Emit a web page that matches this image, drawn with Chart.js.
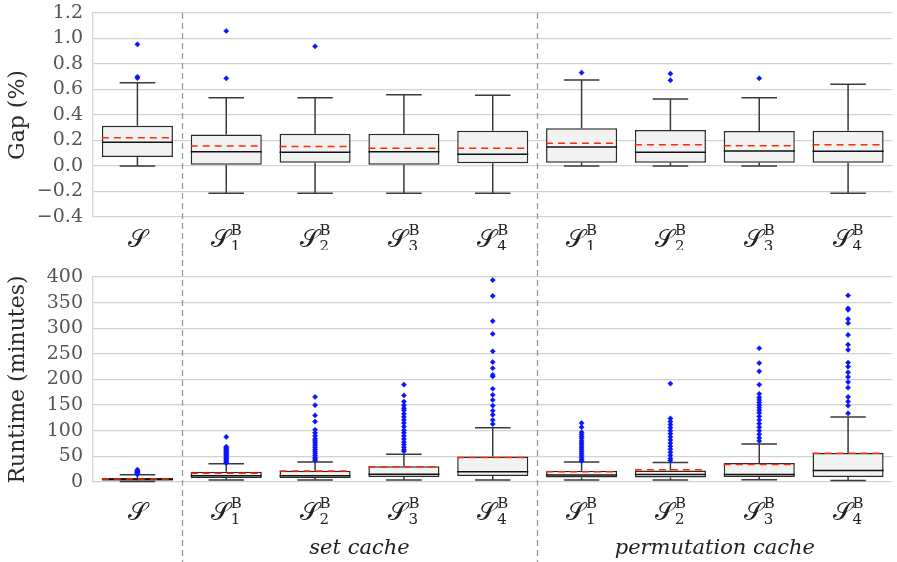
<!DOCTYPE html>
<html>
<head>
<meta charset="utf-8">
<script src="https://cdn.jsdelivr.net/npm/chart.js@4/dist/chart.umd.min.js"></script>
<style>
  body { margin: 0; background: #fff; }
  #wrap { position: relative; width: 897px; height: 562px; overflow: hidden; }
  canvas { position: absolute; left: 0; }
  #gapChart { top: 0; }
  #runChart { top: 250px; }
</style>
</head>
<body>
<div id="wrap">
  <canvas id="gapChart" width="897" height="250"></canvas>
  <canvas id="runChart" width="897" height="312"></canvas>
</div>
<script>
// ----------------------------------------------------
// DATA
// ----------------------------------------------------
const categories = ['S', 'set1', 'set2', 'set3', 'set4', 'perm1', 'perm2', 'perm3', 'perm4'];
const subscripts = ['', '1', '2', '3', '4', '1', '2', '3', '4'];
const groupNames = ['set cache', 'permutation cache'];

// Gap (%)
const gapLow    = [0.000, -0.214, -0.214, -0.214, -0.214, 0.000, 0.000, 0.000, -0.214];
const gapQ1     = [0.071, 0.010, 0.026, 0.010, 0.021, 0.026, 0.026, 0.026, 0.026];
const gapMedian = [0.186, 0.112, 0.107, 0.112, 0.092, 0.149, 0.107, 0.118, 0.115];
const gapMean   = [0.222, 0.157, 0.152, 0.139, 0.139, 0.178, 0.167, 0.159, 0.167];
const gapQ3     = [0.316, 0.248, 0.253, 0.253, 0.277, 0.296, 0.282, 0.275, 0.277];
const gapHigh   = [0.653, 0.536, 0.536, 0.559, 0.554, 0.675, 0.525, 0.536, 0.641];
const gapOutliers = [
  [0.954, 0.700, 0.690],
  [1.059, 0.688],
  [0.939],
  [],
  [],
  [0.732],
  [0.724, 0.672],
  [0.688],
  []
];

// Runtime (minutes)
const runLow    = [1, 4, 4, 3.7, 3.7, 3.7, 3.7, 4.3, 3];
const runQ1     = [3, 7.6, 8, 10, 11.5, 8.8, 8.8, 9.6, 9.6];
const runMedian = [5, 12, 12, 15, 20, 13.5, 14.6, 14.6, 22.5];
const runMean   = [6, 17, 21.5, 30, 48, 20, 24, 34, 56];
const runQ3     = [8, 20, 22, 30.5, 50, 22, 22.5, 37, 56.5];
const runHigh   = [14, 35.5, 39, 54, 106, 39, 38, 74, 127];
const runOutliers = [
  [15, 16, 17, 18, 19, 20, 21, 22, 24],
  [37, 39, 41, 43, 45, 47, 49, 51, 53, 55, 57, 59, 61, 63, 65, 67, 69, 88],
  [42, 45, 48, 52, 56, 60, 64, 68, 72, 76, 80, 84, 90, 96, 102, 118, 130, 150, 166],
  [60, 63, 68, 73, 78, 84, 90, 96, 101, 108, 115, 121, 127, 133, 140, 144, 150, 157, 169, 190],
  [113, 121, 131, 139, 149, 160, 170, 182, 206, 209, 222, 234, 255, 289, 314, 363, 394],
  [41, 44, 48, 52, 56, 60, 64, 68, 72, 76, 80, 85, 89, 93, 97, 107, 115],
  [42, 46, 52, 58, 64, 70, 76, 82, 88, 94, 100, 106, 112, 118, 124, 192],
  [80, 86, 93, 100, 107, 114, 121, 128, 135, 140, 145, 150, 155, 160, 165, 172, 190, 216, 232, 261],
  [134, 149, 157, 166, 184, 195, 205, 214, 225, 233, 258, 268, 287, 310, 318, 336, 339, 364]
];

const gapTicks = { min: -0.4, max: 1.2, step: 0.2 };
const runTicks = { min: 0, max: 400, step: 50 };

// ----------------------------------------------------
// STYLE
// ----------------------------------------------------
const SERIF = "'DejaVu Serif', serif";
const GRID = '#d2d2d2';

// box-plot extras (whiskers, caps, median, mean) drawn off the chart's scales
const boxPlugin = {
  id: 'boxExtras',
  beforeDatasetsDraw(chart) {
    const s = chart.$stats;
    if (!s) return;
    const x = chart.scales.x, y = chart.scales.y;
    const step = x.getPixelForValue(1) - x.getPixelForValue(0);
    const cap = step * 0.2;
    const ctx = chart.ctx;
    ctx.save();
    ctx.strokeStyle = '#3a3a3a';
    ctx.lineWidth = 1.5;
    s.low.forEach((lo, i) => {
      const cx = x.getPixelForValue(i);
      ctx.beginPath();
      ctx.moveTo(cx, y.getPixelForValue(s.q3[i])); ctx.lineTo(cx, y.getPixelForValue(s.high[i]));
      ctx.moveTo(cx, y.getPixelForValue(s.q1[i])); ctx.lineTo(cx, y.getPixelForValue(lo));
      ctx.moveTo(cx - cap, y.getPixelForValue(s.high[i])); ctx.lineTo(cx + cap, y.getPixelForValue(s.high[i]));
      ctx.moveTo(cx - cap, y.getPixelForValue(lo)); ctx.lineTo(cx + cap, y.getPixelForValue(lo));
      ctx.stroke();
    });
    ctx.restore();
  },
  afterDatasetsDraw(chart) {
    const s = chart.$stats;
    if (!s) return;
    const x = chart.scales.x, y = chart.scales.y;
    const half = (x.getPixelForValue(1) - x.getPixelForValue(0)) * 0.4;
    const ctx = chart.ctx;
    ctx.save();
    s.median.forEach((m, i) => {
      const cx = x.getPixelForValue(i);
      ctx.strokeStyle = '#111';
      ctx.lineWidth = 1.5;
      ctx.setLineDash([]);
      ctx.beginPath();
      ctx.moveTo(cx - half, y.getPixelForValue(m)); ctx.lineTo(cx + half, y.getPixelForValue(m));
      ctx.stroke();
      ctx.strokeStyle = '#ff2a00';
      ctx.setLineDash([7, 5]);
      ctx.beginPath();
      ctx.moveTo(cx - half, y.getPixelForValue(s.mean[i])); ctx.lineTo(cx + half, y.getPixelForValue(s.mean[i]));
      ctx.stroke();
    });
    ctx.restore();
  },
  afterDraw(chart) {
    const opt = chart.$labels;
    if (!opt) return;
    const x = chart.scales.x;
    const ctx = chart.ctx;
    ctx.save();
    // group separators
    ctx.strokeStyle = '#9a9a9a';
    ctx.lineWidth = 1.3;
    ctx.setLineDash([6, 4]);
    [0.5, 4.5].forEach(v => {
      const px = Math.round(x.getPixelForValue(v)) + 0.5;
      ctx.beginPath();
      ctx.moveTo(px, opt.sepTop === 'area' ? chart.chartArea.top : 0);
      ctx.lineTo(px, chart.height);
      ctx.stroke();
    });
    ctx.setLineDash([]);
    // category labels
    ctx.fillStyle = '#222';
    ctx.textBaseline = 'alphabetic';
    categories.forEach((c, i) => {
      const cx = x.getPixelForValue(i);
      ctx.font = '25px ' + SERIF;
      const sw = ctx.measureText('𝒮').width;
      if (!subscripts[i]) {
        ctx.textAlign = 'center';
        ctx.fillText('𝒮', cx, opt.base);
        return;
      }
      ctx.font = '15px ' + SERIF;
      const bw = ctx.measureText('B').width;
      const x0 = cx - (sw + bw + 1) / 2;
      ctx.textAlign = 'left';
      ctx.font = '25px ' + SERIF;
      ctx.fillText('𝒮', x0, opt.base);
      ctx.font = '15px ' + SERIF;
      ctx.fillText('B', x0 + sw + 1, opt.base - 12);
      ctx.fillText(subscripts[i], x0 + sw + 1, opt.base + 4);
    });
    // group names
    if (opt.groups) {
      ctx.font = 'italic 21px ' + SERIF;
      ctx.textAlign = 'center';
      ctx.fillText(groupNames[0], (x.getPixelForValue(1) + x.getPixelForValue(4)) / 2, opt.groups);
      ctx.fillText(groupNames[1], (x.getPixelForValue(5) + x.getPixelForValue(8)) / 2, opt.groups);
    }
    ctx.restore();
  }
};

function makeBoxChart(canvasId, stats, ticks, title, fmt, padTop, axisHeight, labelOpts) {
  const outliers = [];
  stats.out.forEach((list, i) => list.forEach(v => outliers.push({ x: categories[i], y: v })));

  const chart = new Chart(document.getElementById(canvasId), {
    type: 'bar',
    data: {
      labels: categories,
      datasets: [
        {
          type: 'line',
          data: outliers,
          showLine: false,
          pointStyle: 'rectRot',
          pointRadius: 2.6,
          pointBackgroundColor: '#0a14ff',
          pointBorderColor: '#0a14ff',
          pointBorderWidth: 0.5,
          order: 0
        },
        {
          data: stats.q1.map((q, i) => [q, stats.q3[i]]),
          backgroundColor: '#f2f2f2',
          borderColor: '#2a2a2a',
          borderWidth: 1.5,
          borderSkipped: false,
          barPercentage: 0.8,
          categoryPercentage: 1.0,
          order: 1
        }
      ]
    },
    options: {
      responsive: false,
      animation: false,
      devicePixelRatio: 1,
      layout: { padding: { top: padTop, left: 0, right: 0, bottom: 0 } },
      plugins: { legend: { display: false }, tooltip: { enabled: false } },
      scales: {
        x: {
          type: 'category',
          offset: true,
          grid: { display: false },
          border: { display: false },
          ticks: { display: false },
          afterFit: (scale) => { scale.height = axisHeight; }
        },
        y: {
          type: 'linear',
          min: ticks.min,
          max: ticks.max,
          afterFit: (scale) => {
            scale.width = 93;
            scale.paddingTop = 0;
            scale.paddingBottom = 0;
          },
          grid: { color: GRID, lineWidth: 1.3, drawTicks: false },
          border: { display: true, color: GRID, width: 1.3 },
          ticks: {
            stepSize: ticks.step,
            autoSkip: false,
            maxTicksLimit: 20,
            padding: 10,
            color: '#555',
            font: { family: SERIF, size: 19, lineHeight: 1 },
            callback: fmt
          },
          title: {
            display: true,
            text: title,
            color: '#2a2a2a',
            font: { family: SERIF, size: 22 },
            padding: { top: 5, bottom: 0 }
          }
        }
      }
    },
    plugins: [boxPlugin]
  });
  chart.$stats = stats;
  chart.$labels = labelOpts;
  chart.draw();
  return chart;
}

makeBoxChart('gapChart',
  { low: gapLow, q1: gapQ1, median: gapMedian, mean: gapMean, q3: gapQ3, high: gapHigh, out: gapOutliers },
  gapTicks, 'Gap (%)',
  v => (Math.abs(v) < 1e-9 ? '0.0' : v.toFixed(1).replace('-', '\u2212')),
  13, 33, { base: 247, sepTop: 'area' });

makeBoxChart('runChart',
  { low: runLow, q1: runQ1, median: runMedian, mean: runMean, q3: runQ3, high: runHigh, out: runOutliers },
  runTicks, 'Runtime (minutes)',
  v => String(Math.round(v)),
  27, 80, { base: 270, sepTop: 'canvas', groups: 304 });
</script>
</body>
</html>
